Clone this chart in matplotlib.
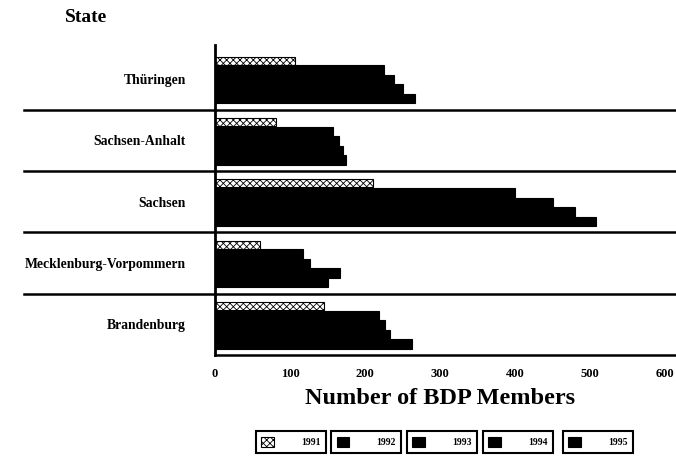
import matplotlib.pyplot as plt
import numpy as np

# datos (miembros BDP por estado y año)
estados = ['Brandenburg', 'Mecklenburg-Vorpommern', 'Sachsen', 'Sachsen-Anhalt', 'Thüringen']
anios = ['1991', '1992', '1993', '1994', '1995']
v1991 = [145, 60, 210, 82, 107]
v1992 = [218, 117, 400, 157, 225]
v1993 = [227, 127, 450, 165, 238]
v1994 = [233, 167, 480, 170, 250]
v1995 = [262, 151, 508, 174, 267]
valores = [v1991, v1992, v1993, v1994, v1995]
ticks_x = [0, 100, 200, 300, 400, 500, 600]

plt.rcParams['font.family'] = ['Liberation Serif', 'DejaVu Serif']
plt.rcParams['hatch.linewidth'] = 0.6

fig = plt.figure(figsize=(6.76, 4.57), dpi=100)
ax = fig.add_axes([0.318, 0.223, 0.666, 0.678])

y = np.arange(len(estados))
alto = 0.155
desplaz = [0.30, 0.145, -0.01, -0.165, -0.32]
for i, anio in enumerate(anios):
    if i == 0:
        ax.barh(y + desplaz[i], valores[i], height=0.13, color='white',
                edgecolor='black', hatch='xxxxx', linewidth=0.8, label=anio)
    else:
        ax.barh(y + desplaz[i], valores[i], height=alto, color='black',
                edgecolor='black', linewidth=0.8, label=anio)

# lineas separadoras entre estados
for s in [0.5, 1.5, 2.5, 3.5]:
    ax.axhline(s, xmin=-0.425, xmax=1.03, color='black', lw=1.8, clip_on=False)
ax.axhline(-0.5, xmin=0, xmax=1.03, color='black', lw=1.8, clip_on=False)

ax.set_xlim(0, 600)
ax.set_ylim(-0.5, 4.55)
ax.set_yticks(y)
ax.set_yticklabels(estados, fontsize=9.8, fontweight='bold')
ax.set_xticks(ticks_x)
ax.set_xticklabels([str(t) for t in ticks_x], fontsize=9, fontweight='bold')
ax.tick_params(length=0, pad=21, axis='y')
ax.tick_params(length=0, pad=9, axis='x')
for lado in ['top', 'right', 'bottom']:
    ax.spines[lado].set_visible(False)
ax.spines['left'].set_linewidth(2)

ax.set_xlabel('Number of BDP Members', fontsize=17.5, fontweight='bold', labelpad=6)
fig.text(0.096, 0.952, 'State', fontsize=14, fontweight='bold')

# leyenda: una caja por año
handles, labels = ax.get_legend_handles_labels()
centros = [0.43, 0.542, 0.654, 0.766, 0.884]
for h, l, cx in zip(handles, labels, centros):
    leg = fig.legend([h], [l], loc='center', bbox_to_anchor=(cx, 0.033),
                     prop={'weight': 'bold', 'size': 7},
                     handlelength=1.3, handleheight=1.3, handletextpad=2.8,
                     borderpad=0.55, borderaxespad=0, fancybox=False,
                     edgecolor='black', framealpha=1)
    leg.get_frame().set_linewidth(1.5)

fig.savefig('out.png', dpi=100)
